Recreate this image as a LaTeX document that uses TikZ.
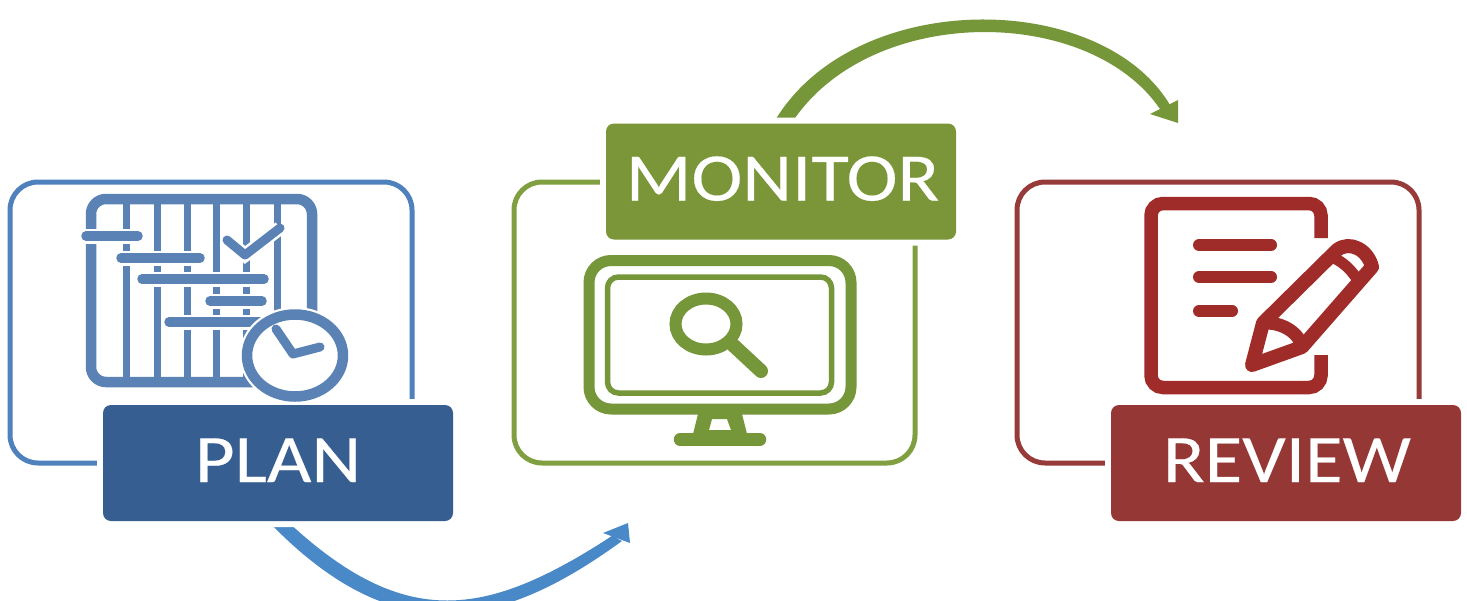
\documentclass[tikz,border=0pt]{standalone}
\usepackage{fontspec}
\setmainfont{Carlito}
\newfontfamily\labelfont[FakeStretch=1.13,FakeBold=0.3]{Carlito}
\usetikzlibrary{backgrounds}
\definecolor{bluebox}{HTML}{375E91}
\definecolor{blueframe}{HTML}{4F81BD}
\definecolor{blueicon}{HTML}{5B82B5}
\definecolor{bluearrow}{HTML}{4A89C8}
\definecolor{greenbox}{HTML}{7A9638}
\definecolor{greenframe}{HTML}{7F9F40}
\definecolor{greenicon}{HTML}{76963A}
\definecolor{redbox}{HTML}{953735}
\definecolor{redframe}{HTML}{963A3A}
\definecolor{redicon}{HTML}{A02C2A}
\newcommand{\boxlabel}[2]{\raisebox{#1}[0pt][0pt]{\labelfont\fontsize{68pt}{68pt}\selectfont\color{white}#2}}
\tikzset{
  x=1pt,y=-1pt,
  labelbox/.style={rectangle,rounded corners=8pt,minimum width=350pt,minimum height=116pt,inner sep=0pt,
    preaction={draw=white,line width=12pt,fill=white}},
  frame/.style={rectangle,rounded corners=28pt,line width=5pt,inner sep=0pt,fill=none},
  flow/.style={line width=9pt},
  ico/.style={line cap=round,line join=round},
  bar/.style={draw=blueicon,line width=9.5pt,line cap=round,preaction={draw=white,line width=15pt,line cap=round}},
}
\begin{document}
\begin{tikzpicture}
\useasboundingbox (0,0) rectangle (1467,600);
\clip (0,0) rectangle (1467,600);

% label boxes
\node[labelbox,fill=bluebox] (plan) at (278,463) {\boxlabel{-19pt}{PLAN}};
\node[labelbox,fill=greenbox] (monitor) at (781,181.5) {\hspace{3pt}\boxlabel{-19pt}{MONITOR}};
\node[labelbox,fill=redbox] (review) at (1286,463) {\hspace{2pt}\boxlabel{-19pt}{REVIEW}};

% frames and arrows lie behind the boxes
\begin{pgfonlayer}{background}
\fill[white] (0,0) rectangle (1467,600);
\node[frame,draw=blueframe,minimum width=402pt,minimum height=281pt] (planframe) at (211,322.5) {};
\node[frame,draw=greenframe,minimum width=401pt,minimum height=281pt] (monitorframe) at (714.5,322.5) {};
\node[frame,draw=redframe,minimum width=402pt,minimum height=281pt] (reviewframe) at (1218,322.5) {};
\coordinate (blueend) at (617,538);
\coordinate (greenend) at (1165,107);
% tapering bodies
\fill[bluearrow] (268,521) .. controls (392,650) and (497,632) .. (622,541)
   -- (612,536) .. controls (487,617) and (406,632) .. (287,521) -- cycle;
\fill[greenicon] (773,124) .. controls (850,-12) and (1100,-12) .. (1170,105)
   -- (1160,109) .. controls (1088,4) and (868,4) .. (791,124) -- cycle;
% connector lines
\draw[flow,draw=bluearrow] (plan.south) .. controls (400,641) and (492,624.5) .. (blueend);
\draw[flow,draw=greenicon] (monitor.north) .. controls (859,-4) and (1094,-4) .. (greenend);
\end{pgfonlayer}
% arrowheads
\fill[bluearrow] (603,533) -- (628,523) -- (630,543) -- cycle;
\fill[greenicon] (1150,114) -- (1178,100) -- (1178,123) -- cycle;

% PLAN icon: calendar
\draw[blueicon,line width=10.5pt,rounded corners=15pt] (91,199) rectangle (312,382);
\foreach \vx in {126,157,187,216,246,277}
  \draw[blueicon,line width=7pt] (\vx,204) -- (\vx,378);
\draw[bar] (86,236) -- (138,236);
\draw[bar] (121,258) -- (200,258);
\draw[bar] (142,279) -- (264,279);
\draw[bar] (210,301) -- (262,301);
\draw[bar] (169,322) -- (266,322);
\draw[ico,blueicon,line width=9pt,preaction={draw=white,line width=14pt}] (227,240) -- (245,255) -- (280,228);
\draw[blueicon,line width=10.5pt,fill=white,preaction={draw=white,line width=15pt}] (295,355.5) ellipse [x radius=48pt,y radius=41pt];
\draw[ico,blueicon,line width=9pt] (276,329) -- (293,354) -- (320,347);

% MONITOR icon: screen
\draw[greenicon,line width=11pt,rounded corners=22pt] (589,260.5) rectangle (851,409);
\draw[greenicon,line width=5.5pt,rounded corners=11pt] (607.5,277) rectangle (831.5,393);
\draw[greenicon,line width=12pt] (706,324) ellipse [x radius=30.5pt,y radius=25.5pt];
\draw[ico,greenicon,line width=14pt] (733,345) -- (761,371);
\fill[greenicon,even odd rule] (698,414) -- (742,414) -- (747,434) -- (693,434) -- cycle
   (712,419) -- (727,419) -- (731,430) -- (709,430) -- cycle;
\draw[ico,greenicon,line width=12.5pt] (680,439.5) -- (760,439.5);

% REVIEW icon: page and pencil
\draw[redicon,line width=13.5pt,rounded corners=12pt] (1321,238) -- (1321,203.5) -- (1151,203.5) -- (1151,387.5) -- (1321,387.5) -- (1321,355);
\foreach \ly/\lx in {245/1277,277/1277,311/1238}
  \draw[ico,redicon,line width=12pt] (1199,\ly) -- (\lx-6,\ly);
\draw[ico,redicon,line width=14pt,fill=white] (1252,365) -- (1263,323) -- (1337,250)
   .. controls (1350,240) and (1368,250) .. (1372,267) -- (1302,347) -- cycle;
\draw[redicon,line width=13pt] (1263,323) .. controls (1285,322) and (1300,335) .. (1302,347);
\draw[redicon,line width=11pt] (1334,258) .. controls (1342,262) and (1350,268) .. (1357,279);
\end{tikzpicture}
\end{document}
